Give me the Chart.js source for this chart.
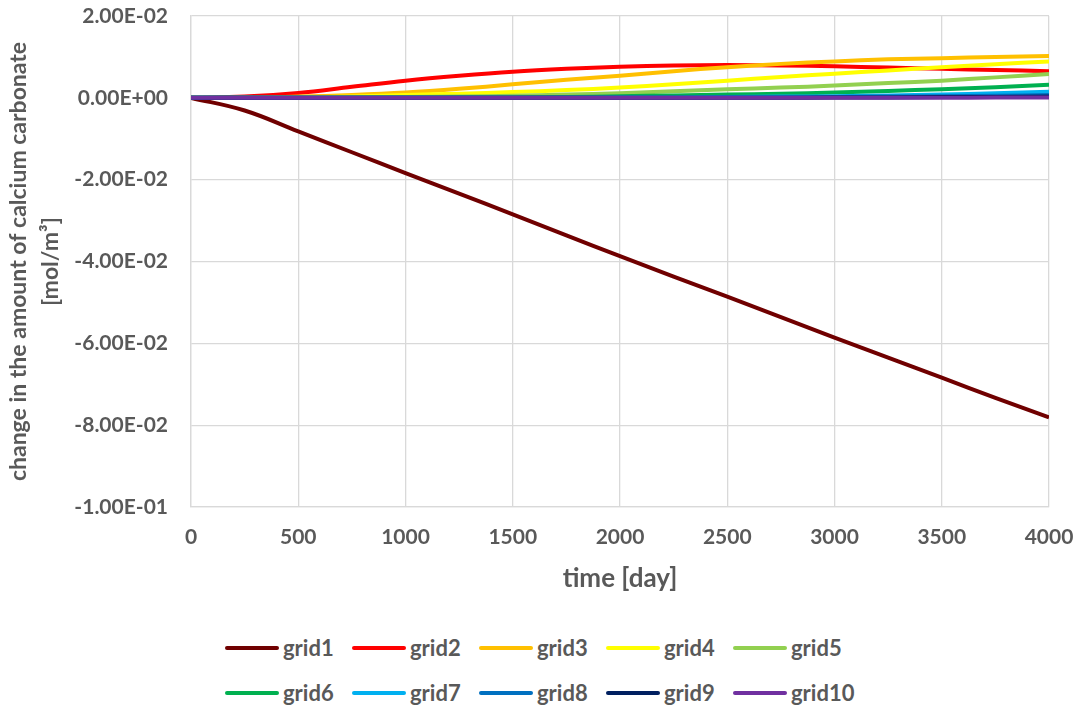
<!DOCTYPE html>
<html>
<head>
<meta charset="utf-8">
<title>Calcium carbonate change</title>
<script src="https://cdn.jsdelivr.net/npm/chart.js@4/dist/chart.umd.min.js"></script>
<style>
    html, body { margin: 0; padding: 0; background: #ffffff; }
    #wrap { position: relative; width: 1079px; height: 708px; overflow: hidden; }
    #chart-canvas { position: absolute; left: 0; top: 0; }
    #legend {
        position: absolute; left: 225px; top: 625px;
        display: grid; grid-template-columns: repeat(5, 127px); grid-auto-rows: 45px;
        font-family: Lato, "Open Sans", sans-serif; font-weight: bold;
        font-size: 22px; color: #595959;
    }
    .legend-item { display: flex; align-items: center; white-space: nowrap; }
    .legend-line { width: 54px; height: 4px; border-radius: 2px; margin-right: 4px; flex: none; }
</style>
</head>
<body>
<div id="wrap">
    <canvas id="chart-canvas" width="1079" height="600"></canvas>
    <div id="legend"></div>
</div>
<script>
// Time axis (days)
const days = [0, 250, 500, 750, 1000, 1250, 1500, 1750, 2000, 2250, 2500, 2750, 3000, 3250, 3500, 3750, 4000];

// Series names and colours
const seriesNames = ['grid1', 'grid2', 'grid3', 'grid4', 'grid5', 'grid6', 'grid7', 'grid8', 'grid9', 'grid10'];
const seriesColors = ['#700000', '#FF0000', '#FFC000', '#FFFF00', '#92D050', '#00B050', '#00B0F0', '#0070C0', '#002060', '#7030A0'];

// Change in calcium carbonate [mol/m3]
const grid1 = [0, -0.0031, -0.0082, -0.0133, -0.0184, -0.0234, -0.0285, -0.0336, -0.0387, -0.0437, -0.0486, -0.0536, -0.0586, -0.0635, -0.0684, -0.0733, -0.0781];
const grid2 = [0, 0.0003, 0.0012, 0.0027, 0.0042, 0.0054, 0.0064, 0.0071, 0.0076, 0.0079, 0.0080, 0.0079, 0.0077, 0.0074, 0.0071, 0.0068, 0.0065];
const grid3 = [0, 0.0000, 0.0003, 0.0007, 0.0013, 0.0022, 0.0033, 0.0044, 0.0054, 0.0065, 0.0075, 0.0083, 0.0089, 0.0094, 0.0097, 0.0100, 0.0102];
const grid4 = [0, 0.0000, 0.0001, 0.0003, 0.0007, 0.0010, 0.0014, 0.0019, 0.0025, 0.0033, 0.0042, 0.0051, 0.0059, 0.0067, 0.0075, 0.0082, 0.0089];
const grid5 = [0, 0.0000, 0.0000, 0.0001, 0.0002, 0.0003, 0.0005, 0.0008, 0.0011, 0.0016, 0.0021, 0.0025, 0.0030, 0.0036, 0.0042, 0.0050, 0.0058];
const grid6 = [0, 0.0000, 0.0000, 0.0000, 0.0000, 0.0001, 0.0001, 0.0002, 0.0004, 0.0006, 0.0008, 0.0010, 0.0013, 0.0017, 0.0021, 0.0026, 0.0032];
const grid7 = [0, 0.0000, 0.0000, 0.0000, 0.0000, 0.0000, 0.0000, 0.0000, 0.0001, 0.0001, 0.0002, 0.0003, 0.0004, 0.0006, 0.0008, 0.0011, 0.0015];
const grid8 = [0, 0.0000, 0.0000, 0.0000, 0.0000, 0.0000, 0.0000, 0.0000, 0.0000, 0.0000, 0.0001, 0.0001, 0.0002, 0.0003, 0.0004, 0.0005, 0.0007];
const grid9 = [0, 0.0000, 0.0000, 0.0000, 0.0000, 0.0000, 0.0000, 0.0000, 0.0000, 0.0000, 0.0000, 0.0000, 0.0001, 0.0001, 0.0002, 0.0002, 0.0003];
const grid10 = [0, 0.0000, 0.0000, 0.0000, 0.0000, 0.0000, 0.0000, 0.0000, 0.0000, 0.0000, 0.0000, 0.0000, 0.0000, 0.0000, 0.0000, 0.0001, 0.0001];

// Y tick values
const yTicks = [0.02, 0, -0.02, -0.04, -0.06, -0.08, -0.1];

const allSeries = [grid1, grid2, grid3, grid4, grid5, grid6, grid7, grid8, grid9, grid10];

const textColor = '#595959';
const gridColor = '#d9d9d9';
const fontFamily = 'Lato, "Open Sans", sans-serif';

let mainChart = null;

/**
 * Format a number the way Excel does with 0.00E+00
 */
function formatSci(value) {
    if (Math.abs(value) < 1e-12) return '0.00E+00';
    const parts = value.toExponential(2).split('e');
    let exp = parseInt(parts[1], 10);
    const sign = exp < 0 ? '-' : '+';
    exp = Math.abs(exp);
    return parts[0] + 'E' + sign + (exp < 10 ? '0' + exp : exp);
}

/**
 * Build the datasets from the arrays above
 */
function buildDatasets() {
    return allSeries.map((values, i) => ({
        label: seriesNames[i],
        data: values.map((v, j) => ({ x: days[j], y: v })),
        borderColor: seriesColors[i],
        backgroundColor: seriesColors[i],
        borderWidth: 4,
        pointRadius: 0,
        tension: 0.4,
        fill: false,
        // later series on top, like in the original
        order: allSeries.length - i
    }));
}

/**
 * HTML legend laid out in two fixed rows of five
 */
function buildLegend() {
    const legend = document.getElementById('legend');
    seriesNames.forEach((name, i) => {
        const item = document.createElement('div');
        item.className = 'legend-item';
        const line = document.createElement('span');
        line.className = 'legend-line';
        line.style.background = seriesColors[i];
        const label = document.createElement('span');
        label.textContent = name;
        item.appendChild(line);
        item.appendChild(label);
        legend.appendChild(item);
    });
}

/**
 * Create the chart
 */
function createChart() {
    const canvas = document.getElementById('chart-canvas');

    mainChart = new Chart(canvas, {
        type: 'line',
        data: { datasets: buildDatasets() },
        options: {
            responsive: false,
            animation: false,
            layout: { padding: { top: 16, right: 30, left: 0, bottom: 0 } },
            plugins: {
                legend: { display: false },
                tooltip: { enabled: false }
            },
            scales: {
                x: {
                    type: 'linear',
                    min: 0,
                    max: 4000,
                    afterFit: scale => {
                        scale.height = 93;
                        scale.paddingLeft = 0;
                        scale.paddingRight = 0;
                    },
                    ticks: {
                        stepSize: 500,
                        padding: 18,
                        color: textColor,
                        font: { family: fontFamily, size: 21, weight: 'bold' },
                        callback: value => String(value)
                    },
                    grid: { color: gridColor, lineWidth: 1.3, drawTicks: false },
                    border: { color: gridColor, width: 1.3 },
                    title: {
                        display: true,
                        text: 'time [day]',
                        color: textColor,
                        font: { family: fontFamily, size: 26, weight: 'bold' },
                        padding: { top: 0, bottom: 6 }
                    }
                },
                y: {
                    type: 'linear',
                    min: -0.1,
                    max: 0.02,
                    afterFit: scale => {
                        scale.width = 191;
                        scale.paddingTop = 0;
                        scale.paddingBottom = 0;
                    },
                    afterBuildTicks: scale => {
                        scale.ticks = yTicks.map(v => ({ value: v }));
                    },
                    ticks: {
                        padding: 23,
                        color: textColor,
                        font: { family: fontFamily, size: 21, weight: 'bold' },
                        callback: value => formatSci(value)
                    },
                    grid: { color: gridColor, lineWidth: 1.3, drawTicks: false },
                    border: { color: gridColor, width: 1.3 },
                    title: {
                        display: true,
                        text: ['change in the amount of calcium carbonate', '[mol/m\u00b3]'],
                        color: textColor,
                        font: { family: fontFamily, size: 23, weight: 'bold', lineHeight: 1.4 },
                        padding: { top: 2, bottom: 0 }
                    }
                }
            }
        }
    });
}

buildLegend();
createChart();
</script>
</body>
</html>
